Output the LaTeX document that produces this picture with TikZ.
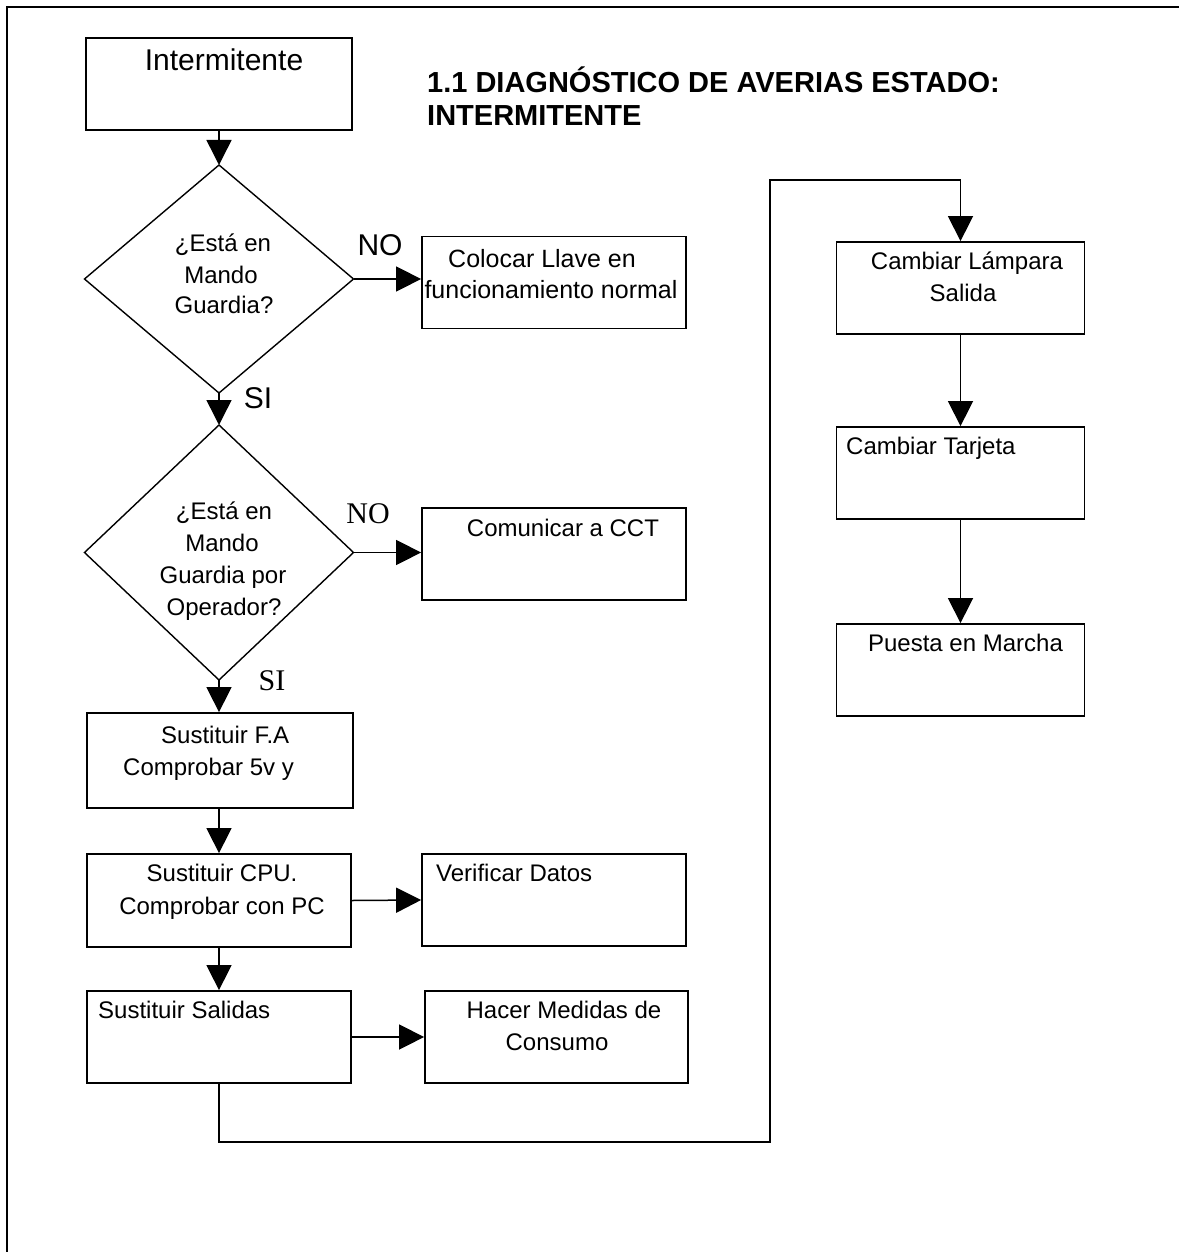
\documentclass[tikz,border=0pt]{standalone}
\usepackage{fontspec}
\setmainfont{Liberation Sans}
\newfontfamily\timesf{Liberation Serif}
\usetikzlibrary{shapes.geometric,arrows.meta}
\begin{document}
\begin{tikzpicture}[x=1pt,y=-1pt,
  box/.style={draw,line width=1.8pt,rectangle,minimum width=264pt,minimum height=92pt,inner sep=0pt},
  dec/.style={draw,line width=1.4pt,diamond,minimum width=269pt,inner sep=0pt,outer sep=0pt},
  tx/.style={font=\fontsize{24}{28}\selectfont,inner sep=0pt,anchor=base},
  txw/.style={tx,anchor=base west},
  conn/.style={line width=1.5pt},
  arr/.style={conn,-{Triangle[length=25pt,width=25pt]}},
  lbl/.style={font=\fontsize{30}{30}\selectfont,inner sep=0pt,anchor=base},
  lbls/.style={font=\timesf\fontsize{30}{30}\selectfont,inner sep=0pt,anchor=base}
]
\useasboundingbox (0,0) rectangle (1179,1252);
% frame
\draw[line width=2pt] (7,1252) -- (7,7) -- (1179,7);

% title
\node[font=\bfseries\fontsize{29}{33}\selectfont,inner sep=0pt,anchor=base west] (t1) at (427,92.4) {1.1 DIAGNÓSTICO DE AVERIAS ESTADO:};
\node[font=\bfseries\fontsize{29}{33}\selectfont,inner sep=0pt,anchor=base west] (t2) at (427,125.4) {INTERMITENTE};

% left column
\node[box,minimum width=266pt] (B0) at (219,84) {};
\node[font=\fontsize{30}{30}\selectfont,inner sep=0pt,anchor=base] (B0t) at (224,70.7) {Intermitente};

\node[dec,minimum height=228pt] (D1) at (219,279) {};
\node[tx] (D1a) at (223,251.6) {¿Está en};
\node[tx] (D1b) at (221,283.6) {Mando};
\node[tx] (D1c) at (224,313.6) {Guardia?};

\node[box] (C1) at (554,282.5) {};
\node[tx,font=\fontsize{25}{29}\selectfont] (C1a) at (542,267) {Colocar Llave en};
\node[tx,font=\fontsize{25}{29}\selectfont] (C1b) at (551,298) {funcionamiento normal};

\node[dec,minimum height=255pt] (D2) at (219,552.5) {};
\node[tx] (D2a) at (224,519.6) {¿Está en};
\node[tx] (D2b) at (222,551.6) {Mando};
\node[tx] (D2c) at (223,583.6) {Guardia por};
\node[tx] (D2d) at (224,615.6) {Operador?};

\node[box] (C2) at (554,554) {};
\node[tx] (C2a) at (563,536.6) {Comunicar a CCT};

\node[box,minimum width=266pt,minimum height=95pt] (B1) at (220,760.5) {};
\node[txw] (B1a) at (161,743.6) {Sustituir F.A};
\node[txw] (B1b) at (123,775.6) {Comprobar 5v y};

\node[box,minimum height=93pt] (B2) at (219,900.5) {};
\node[tx] (B2a) at (222,881.6) {Sustituir CPU.};
\node[tx] (B2b) at (222,914.6) {Comprobar con PC};

\node[box] (V) at (554,900) {};
\node[txw] (Va) at (436,881.6) {Verificar Datos};

\node[box] (B3) at (219,1037) {};
\node[txw] (B3a) at (98,1018.6) {Sustituir Salidas};

\node[box,minimum width=263pt] (H) at (556.5,1037) {};
\node[tx] (Ha) at (564,1018.6) {Hacer Medidas de};
\node[tx] (Hb) at (557,1050.6) {Consumo};

% right column
\node[box,minimum width=248pt] (R1) at (960.5,288) {};
\node[tx] (R1a) at (967,269.6) {Cambiar Lámpara};
\node[tx] (R1b) at (963,301.6) {Salida};

\node[box,minimum width=248pt] (R2) at (960.5,473) {};
\node[txw] (R2a) at (846,454.6) {Cambiar Tarjeta};

\node[box,minimum width=248pt] (R3) at (960.5,670) {};
\node[tx] (R3a) at (965.5,651.6) {Puesta en Marcha};

% labels
\node[lbl] (no1) at (380,255.7) {NO};
\node[lbl] (si1) at (258,408.7) {SI};
\node[lbls] (no2) at (368,523) {NO};
\node[lbls] (si2) at (272,690) {SI};

% connectors
\draw[arr] (B0.south) -- (D1.north);
\draw[arr] (D1.east) -- (D1.east -| C1.west);
\draw[arr] (D1.south) -- (D2.north);
\draw[arr] (D2.east) -- (D2.east -| C2.west);
\draw[arr] (D2.south) -- (B1.north -| D2.south);
\draw[arr] (B1.south -| B2.north) -- (B2.north);
\draw[arr] (B2.east) -- (V.west);
\draw[arr] (B2.south) -- (B3.north);
\draw[arr] (B3.east) -- (B3.east -| H.west);

\coordinate (k1) at (219,1142);
\coordinate (k2) at (770,1142);
\coordinate (k3) at (770,180);
\coordinate (k4) at (960.5,180);
\draw[arr] (B3.south) -- (k1) -- (k2) -- (k3) -- (k4) -- (R1.north);
\draw[arr] (R1.south) -- (R2.north);
\draw[arr] (R2.south) -- (R3.north);
\end{tikzpicture}
\end{document}
